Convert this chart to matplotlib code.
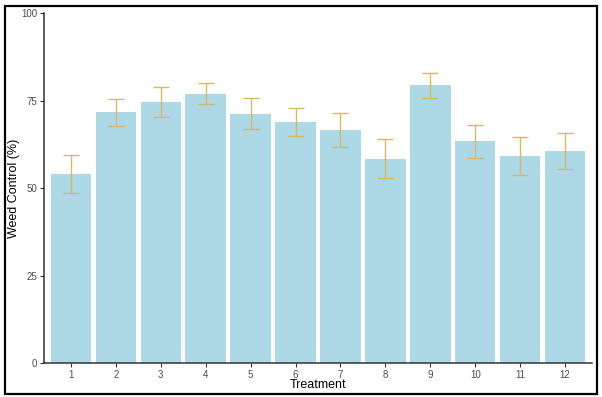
import matplotlib.pyplot as plt
from matplotlib.patches import Rectangle

plt.rcParams['font.family'] = ['Liberation Sans', 'DejaVu Sans']

treatments = [1, 2, 3, 4, 5, 6, 7, 8, 9, 10, 11, 12]
weed_control = [54.0, 71.6, 74.6, 77.0, 71.2, 68.9, 66.6, 58.4, 79.4, 63.4, 59.2, 60.6]
errors = [5.4, 3.9, 4.4, 2.9, 4.4, 3.9, 4.8, 5.5, 3.6, 4.7, 5.5, 5.1]
y_ticks = [0, 25, 50, 75, 100]

fig = plt.figure(figsize=(6.02, 3.97), dpi=100)
ax = fig.add_axes([0.0731, 0.0856, 0.9103, 0.8814])

ax.bar(treatments, weed_control, width=0.9, color='#ADD8E6', zorder=1)
ax.errorbar(treatments, weed_control, yerr=errors, fmt='none',
            ecolor='#DDB862', elinewidth=1.0, capsize=6, capthick=1.0, zorder=2)

ax.set_xlim(0.4, 12.6)
ax.set_ylim(0, 100)
ax.set_xticks(treatments)
ax.set_xticklabels([str(t) for t in treatments])
ax.set_yticks(y_ticks)

for side in ['top', 'right']:
    ax.spines[side].set_visible(False)
for side in ['left', 'bottom']:
    ax.spines[side].set_color('#333333')
    ax.spines[side].set_linewidth(1.1)

ax.tick_params(axis='both', colors='#333333', length=3, width=0.8,
               labelsize=7, labelcolor='#4d4d4d', pad=2)

ax.set_xlabel('Treatment', fontsize=9, color='black')
ax.set_ylabel('Weed Control (%)', fontsize=9, color='black')
ax.xaxis.set_label_coords(0.5, -0.063)
ax.yaxis.set_label_coords(-0.055, 0.5)
ax.xaxis.label.set_verticalalignment('center')
ax.yaxis.label.set_verticalalignment('center')

# black frame around the whole picture
fig.patches.append(Rectangle((0.009, 0.0076), 0.982, 0.978, transform=fig.transFigure,
                             fill=False, edgecolor='black', linewidth=1.6))

fig.savefig('out.png', dpi=100)
